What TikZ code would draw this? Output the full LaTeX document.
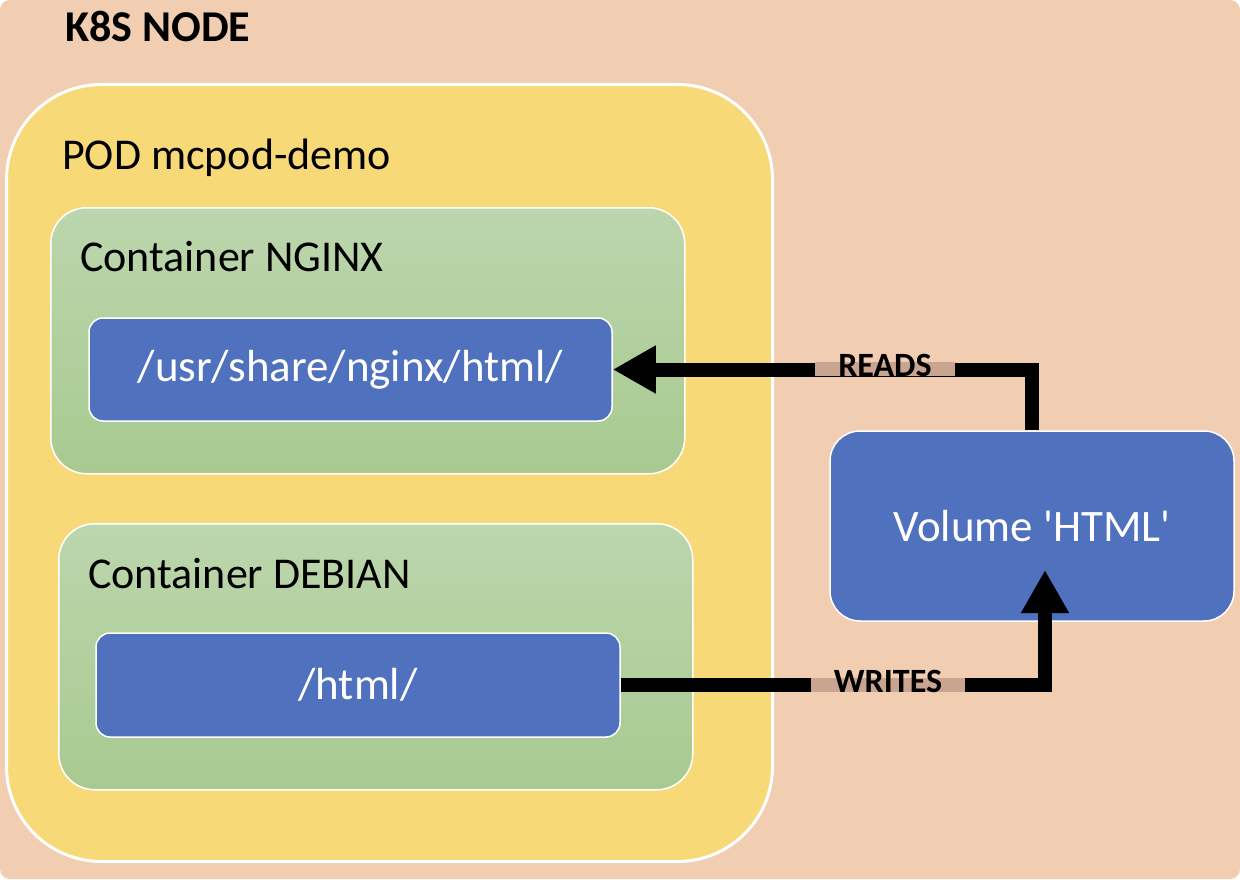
\documentclass[tikz,border=0pt]{standalone}
\usepackage{fontspec}
\setmainfont{Carlito}
\usetikzlibrary{arrows.meta}
\definecolor{peach}{HTML}{F1CDB1}
\definecolor{podyellow}{HTML}{F8D977}
\definecolor{ctop}{HTML}{BCD6AD}
\definecolor{cbot}{HTML}{A8CA90}
\definecolor{dirblue}{HTML}{5071BE}
\definecolor{bartan}{HTML}{C9A591}
\tikzset{
	pod/.style={fill=podyellow,draw=white,line width=3pt,rounded corners=95pt,anchor=north west},
	cont/.style={top color=ctop,bottom color=cbot,draw=white,line width=1.5pt,rounded corners=36pt,anchor=north west},
	dir/.style={fill=dirblue,draw=white,line width=1.5pt,rounded corners=14pt,text=white,font=\fontsize{45}{50}\selectfont},
	title/.style={anchor=base west,inner sep=0pt,font=\fontsize{44}{50}\selectfont},
	flow/.style={line width=14pt,-{Triangle[length=43pt,width=45pt]}},
	tag/.style={fill=bartan,inner xsep=23pt,inner ysep=0pt,text height=14pt,text depth=0pt,font=\bfseries\fontsize{34}{38}\selectfont}
}
\begin{document}
\begin{tikzpicture}[x=1pt,y=-1pt]
	\useasboundingbox (0,0) rectangle (1240,880);
	\fill[peach,rounded corners=10pt] (0,0) rectangle (1240,879);
	\node[title,font=\bfseries\fontsize{44}{50}\selectfont] (k8s) at (65,42) {K8S NODE};
	\node[pod,minimum width=766pt,minimum height=777pt] (pod) at (5,83) {};
	\node[title] (podname) at (62,170) {POD mcpod-demo};
	\node[cont,minimum width=634pt,minimum height=266pt] (nginx) at (50,207) {};
	\node[title] (nginxname) at (80,271) {Container NGINX};
	\node[cont,minimum width=634pt,minimum height=266pt] (debian) at (58,523) {};
	\node[title] (debianname) at (88,588) {Container DEBIAN};
	\node[dir,minimum width=523pt,minimum height=103pt] (nginxdir) at (350.5,369.5) {/usr/share/nginx/html/};
	\node[dir,minimum width=524pt,minimum height=104pt] (htmldir) at (358,685) {/html/};
	\node[dir,rounded corners=30pt,minimum width=404pt,minimum height=190pt] (vol) at (1032,526) {Volume \textquotesingle HTML\textquotesingle};
	\coordinate (wtip) at (1045,570);
	\draw[flow] (vol.north) |- (nginxdir.east);
	\draw[flow] (htmldir.east) -| (wtip);
	\node[tag] (reads) at (885,369) {READS};
	\node[tag] (writes) at (888,685) {WRITES};
\end{tikzpicture}
\end{document}
